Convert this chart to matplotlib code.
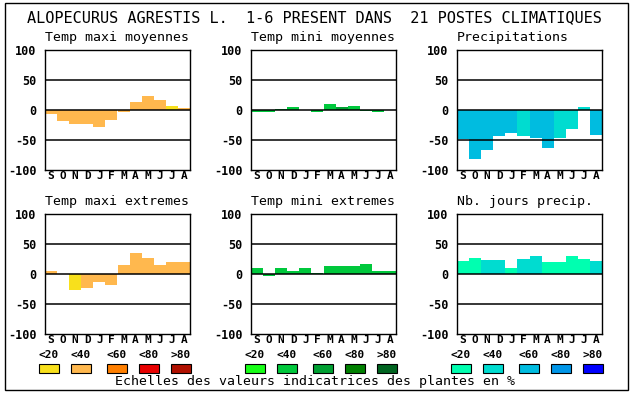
import matplotlib
matplotlib.use("Agg")
import matplotlib.pyplot as plt
from matplotlib.patches import Rectangle

# Data
months = ["S", "O", "N", "D", "J", "F", "M", "A", "M", "J", "J", "A"]
yticks = [-100, -50, 0, 50, 100]

title = "ALOPECURUS AGRESTIS L.  1-6 PRESENT DANS  21 POSTES CLIMATIQUES"
footer = "Echelles des valeurs indicatrices des plantes en %"
scale_labels = ["<20", "<40", "<60", "<80", ">80"]

orange_scale = ["#f8e01c", "#ffb84e", "#ff7f00", "#e80000", "#b01000"]
green_scale = ["#18ff18", "#00c83c", "#00a032", "#008000", "#006420"]
blue_scale = ["#00ffb0", "#00dcd0", "#00bce0", "#0096e8", "#0000ff"]

tmax_moy = [-6, -18, -24, -24, -28, -17, -4, 13, 23, 17, 7, 3]
tmax_moy_cls = [1, 1, 1, 1, 1, 1, 1, 1, 1, 1, 0, 1]

tmin_moy = [-4, -4, 2, 5, 0, -3, 10, 5, 7, -2, -4, 0]
tmin_moy_cls = [1, 1, 1, 1, 1, 1, 1, 2, 1, 1, 1, 1]

precip = [-48, -81, -66, -44, -38, -43, -46, -63, -46, -31, 5, -41]
precip_cls = [2, 2, 2, 2, 2, 1, 2, 2, 1, 1, 1, 2]

tmax_ext = [5, 0, -26, -23, -14, -18, 15, 35, 27, 15, 20, 20]
tmax_ext_cls = [1, 1, 0, 1, 1, 1, 1, 1, 1, 1, 1, 1]

tmin_ext = [10, -3, 10, 5, 10, 2, 13, 13, 13, 17, 5, 5]
tmin_ext_cls = [1, 1, 1, 1, 1, 1, 1, 1, 1, 1, 1, 1]

nb_jours = [22, 27, 23, 23, 10, 25, 30, 20, 20, 30, 25, 22]
nb_jours_cls = [0, 0, 1, 1, 0, 1, 1, 0, 0, 0, 0, 1]

panels = [
    ("Temp maxi moyennes", tmax_moy, tmax_moy_cls, orange_scale, 0, 0),
    ("Temp mini moyennes", tmin_moy, tmin_moy_cls, green_scale, 0, 1),
    ("Precipitations", precip, precip_cls, blue_scale, 0, 2),
    ("Temp maxi extremes", tmax_ext, tmax_ext_cls, orange_scale, 1, 0),
    ("Temp mini extremes", tmin_ext, tmin_ext_cls, green_scale, 1, 1),
    ("Nb. jours precip.", nb_jours, nb_jours_cls, blue_scale, 1, 2),
]

W, H = 630, 394
mono = "DejaVu Sans Mono"
col_left = [45, 251, 457]
row_top = [50, 214]
ax_w, ax_h = 145, 120

fig = plt.figure(figsize=(W / 100, H / 100), dpi=100)


def px(x, y):
    # pixel (from top-left) -> figure fraction
    return x / W, 1 - y / H


# outer frame
fig.add_artist(Rectangle(px(5, 390), 623 / W, 387 / H, transform=fig.transFigure,
                         fill=False, edgecolor="black", linewidth=1))

fig.text(*px(314, 18), title, family=mono, fontsize=11, ha="center", va="center")

for name, vals, cls, palette, r, c in panels:
    x0, y0 = px(col_left[c], row_top[r] + ax_h)
    ax = fig.add_axes([x0, y0, ax_w / W, ax_h / H])
    colors = [palette[k] for k in cls]
    ax.bar(range(len(months)), vals, width=1.0, color=colors, linewidth=0)
    for yv in (-50, 0, 50):
        ax.axhline(yv, color="black", linewidth=1.1, zorder=3)
    ax.set_xlim(-0.5, len(months) - 0.5)
    ax.set_ylim(-100, 100)
    ax.set_yticks(yticks)
    ax.set_yticklabels([str(v) for v in yticks], family=mono, fontweight="bold", fontsize=8.5)
    ax.set_xticks(range(len(months)))
    ax.set_xticklabels(months, family=mono, fontweight="bold", fontsize=8)
    ax.tick_params(length=0, axis="y", pad=6)
    ax.tick_params(length=0, axis="x", pad=0.5)
    for s in ax.spines.values():
        s.set_linewidth(1)
    fig.text(*px(col_left[c], row_top[r] - 12), name, family=mono, fontsize=9.5,
             ha="left", va="center")

# colour scale keys
box_offsets = [0, 32, 68, 100, 132]
scales = [orange_scale, green_scale, blue_scale]
for c, palette in enumerate(scales):
    for k, (lab, col) in enumerate(zip(scale_labels, palette)):
        bx = col_left[c] - 6 + box_offsets[k]
        fig.add_artist(Rectangle(px(bx, 373), 20 / W, 9 / H, transform=fig.transFigure,
                                 facecolor=col, edgecolor="black", linewidth=0.8))
        fig.text(*px(bx + 10, 355), lab, family=mono, fontweight="bold", fontsize=8,
                 ha="center", va="center")

fig.text(*px(315, 382), footer, family=mono, fontsize=9.5, ha="center", va="center")

fig.savefig("out.png", dpi=100)
